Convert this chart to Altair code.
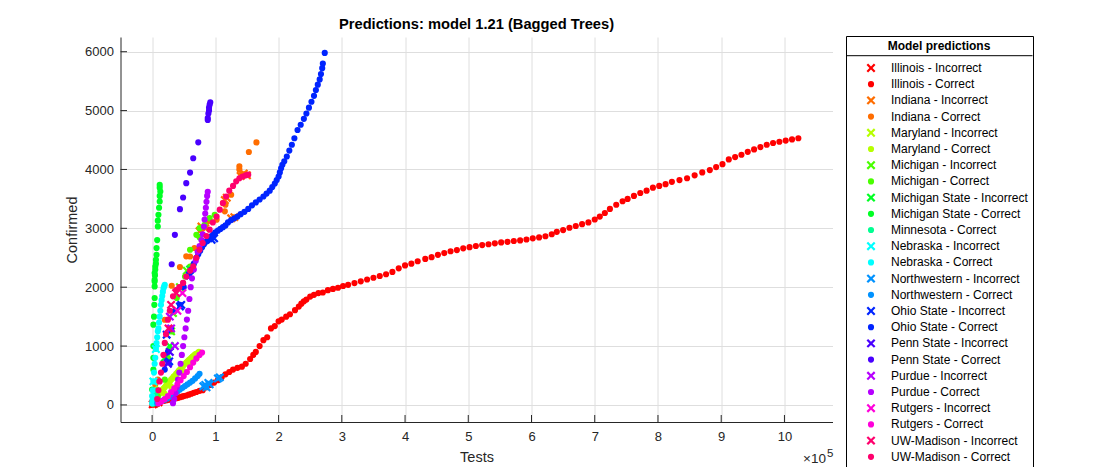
import altair as alt
import pandas as pd

# ---------------- legend entries (order, colours, marker) ----------------
labels = [
    "Illinois - Incorrect", "Illinois - Correct",
    "Indiana - Incorrect", "Indiana - Correct",
    "Maryland - Incorrect", "Maryland - Correct",
    "Michigan - Incorrect", "Michigan - Correct",
    "Michigan State - Incorrect", "Michigan State - Correct",
    "Minnesota - Correct",
    "Nebraska - Incorrect", "Nebraska - Correct",
    "Northwestern - Incorrect", "Northwestern - Correct",
    "Ohio State - Incorrect", "Ohio State - Correct",
    "Penn State - Incorrect", "Penn State - Correct",
    "Purdue - Incorrect", "Purdue - Correct",
    "Rutgers - Incorrect", "Rutgers - Correct",
    "UW-Madison - Incorrect", "UW-Madison - Correct",
]
colors = [
    "#FF0000", "#FF0000", "#FF6D00", "#FF6D00", "#B6FF00", "#B6FF00",
    "#49FF00", "#49FF00", "#00FF24", "#00FF24", "#00FF92",
    "#00FFFF", "#00FFFF", "#0092FF", "#0092FF", "#0024FF", "#0024FF",
    "#4900FF", "#4900FF", "#B600FF", "#B600FF", "#FF00DB", "#FF00DB",
    "#FF006D", "#FF006D",
]
markers = ["x", "o", "x", "o", "x", "o", "x", "o", "x", "o", "o",
           "x", "o", "x", "o", "x", "o", "x", "o", "x", "o", "x", "o", "x", "o"]

# ---------------- data: (tests in thousands, confirmed) ----------------
il_inc = [(1, 10), (3, 20), (6, 35), (10, 45)]
il_cor = [(0.5, 5), (1, 12), (2, 20), (3, 28), (4, 30), (5, 35), (6, 40), (8, 45), (10, 50), (12, 55),
          (14, 60), (16, 65), (18, 70), (20, 75), (23, 80), (26, 90), (29, 95), (32, 100), (35, 110),
          (38, 115), (41, 120), (44, 130), (47, 140), (50, 150), (54, 160), (58, 175), (62, 190),
          (66, 205), (70, 220), (75, 240), (80, 250), (86, 300), (92, 340), (98, 380), (104, 420),
          (110, 470), (116, 520), (122, 560), (128, 600), (135, 630), (142, 650), (148, 700),
          (155, 780), (160, 850), (164, 900), (170, 1000), (176, 1100), (182, 1150), (188, 1300),
          (194, 1340), (200, 1420), (205, 1450), (212, 1500), (218, 1540), (226, 1610), (232, 1670),
          (236, 1720), (240, 1760), (244, 1790), (250, 1840), (256, 1870), (263, 1900), (270, 1910),
          (278, 1950), (286, 1970), (294, 1990), (302, 2020), (310, 2040), (320, 2070), (330, 2100),
          (340, 2130), (350, 2160), (360, 2190), (370, 2220), (380, 2260), (390, 2320), (400, 2370),
          (410, 2400), (420, 2440), (432, 2480), (442, 2510), (452, 2550), (462, 2580), (472, 2610),
          (482, 2630), (492, 2660), (502, 2680), (512, 2700), (522, 2715), (532, 2730), (542, 2745),
          (552, 2760), (562, 2770), (572, 2785), (582, 2795), (592, 2810), (602, 2830), (612, 2845),
          (622, 2865), (632, 2900), (640, 2940), (650, 2970), (660, 3010), (670, 3040), (680, 3070),
          (690, 3100), (700, 3150), (708, 3200), (716, 3260), (724, 3330), (734, 3400), (744, 3460),
          (752, 3500), (762, 3550), (772, 3600), (782, 3640), (792, 3690), (802, 3720), (812, 3750),
          (822, 3790), (834, 3820), (846, 3850), (858, 3900), (870, 3950), (882, 3990), (892, 4040),
          (902, 4090), (912, 4170), (922, 4210), (932, 4250), (942, 4300), (952, 4340), (962, 4380),
          (972, 4420), (982, 4450), (992, 4470), (1002, 4490), (1012, 4510), (1022, 4530)]
in_inc = [(75, 2950), (78, 3030), (84, 3000), (115, 3480), (118, 3520), (125, 3170), (130, 3190),
          (140, 3890), (145, 3930), (150, 3900)]
in_cor = [(3, 150), (5, 350), (9, 430), (20, 1447), (31, 2024), (44, 2343), (54, 2524), (60, 2522),
          (67, 2666), (78, 2988), (88, 3119), (102, 3147), (112, 3428), (115, 3288), (116, 3402),
          (125, 3571), (138, 4000), (138, 4053), (141, 3908), (153, 4296), (165, 4460)]
md_inc = [(3, 200), (8, 150), (12, 260)]
md_cor = [(2, 40), (4, 80), (6, 110), (8, 140), (10, 170), (12, 200), (14, 230), (16, 250), (18, 270),
          (20, 300), (22, 330), (24, 350), (26, 380), (28, 400), (30, 430), (32, 450), (34, 480),
          (36, 500), (38, 530), (40, 550), (42, 580), (44, 600), (46, 630), (48, 650), (50, 680),
          (52, 700), (54, 720), (56, 740), (58, 760), (60, 780), (62, 800), (64, 820), (66, 840),
          (68, 860), (70, 870), (72, 880), (74, 900), (10, 90), (20, 190), (30, 310), (40, 440),
          (50, 570), (60, 690), (70, 790)]
mi_inc = [(33, 1560), (30, 1250), (44, 2000), (55, 2280)]
mi_cor = [(9, 146), (20, 429), (25, 798), (28, 967), (31, 1249), (39, 1816), (39, 1957), (49, 2070),
          (52, 2182), (60, 2352), (65, 2381), (60, 2636), (75, 2850), (70, 2890), (75, 3003),
          (83, 3060), (91, 3173), (99, 3229)]
ms_inc = [(28, 1000), (60, 2300), (20, 800)]
ms_cor = [(0, 260), (2, 599), (2, 800), (2, 1000), (2, 1363), (3, 1500), (3.5, 1700), (4, 1816),
          (4, 2013), (4, 2097), (4, 2126), (4.5, 2200), (4, 2240), (5, 2300), (5, 2352), (6, 2400),
          (6, 2466), (7, 2550), (7, 2664), (8, 2800), (9, 3031), (9, 3130), (10, 3229), (11, 3350),
          (12, 3455), (12, 3550), (13, 3625), (12, 3690), (12, 3738)]
mn_cor = [(1, 20), (2, 60), (3, 120), (4, 90), (5, 180), (7, 250)]
ne_inc = [(2, 400), (6, 950)]
ne_cor = [(0, 30), (0.5, 80), (0, 150), (1, 250), (2, 400), (3, 550), (4, 700), (5, 800), (6, 950),
          (7, 1050), (8, 1150), (9, 1250), (10, 1300), (11, 1400), (12, 1500), (13, 1600),
          (14, 1700), (15, 1780), (16, 1850), (17, 1920), (18, 1980), (19, 2010), (20, 2040)]
nw_inc = [(81, 316), (84, 340), (86, 300), (89, 373), (91, 350), (104, 450), (107, 468)]
nw_cor = [(8, 30), (12, 50), (16, 70), (20, 90), (24, 110), (28, 140), (32, 170), (36, 200),
          (40, 230), (44, 260), (48, 290), (52, 320), (56, 350), (60, 380), (64, 410), (68, 450),
          (72, 490), (75, 530)]
os_inc = [(25, 713), (23, 1193), (27, 740), (44, 1673), (46, 1700), (60, 2200), (94, 2805), (98, 2830)]
os_cor = [(20, 600), (25, 900), (30, 1300), (36, 1600), (44, 1700), (50, 2000), (58, 2200), (62, 2300),
          (66, 2400), (70, 2500), (73, 2560), (76, 2620), (79, 2680), (82, 2730), (85, 2770),
          (88, 2810), (91, 2840), (94, 2870), (97, 2900), (100, 2930), (104, 2960), (108, 2990),
          (112, 3020), (116, 3050), (120, 3100), (125, 3140), (130, 3170), (135, 3200), (140, 3240),
          (146, 3280), (152, 3330), (158, 3390), (164, 3440), (170, 3490), (176, 3540), (181, 3590),
          (186, 3640), (190, 3700), (194, 3760), (197, 3820), (200, 3880), (202, 3950), (204, 4020),
          (206, 4080), (209, 4140), (213, 4220), (217, 4320), (221, 4420), (225, 4530), (230, 4670),
          (235, 4760), (240, 4860), (244, 4950), (248, 5050), (252, 5150), (256, 5250), (259, 5350),
          (262, 5440), (265, 5530), (267, 5620), (269, 5720), (270, 5800), (273, 5980)]
ps_inc = [(25, 700), (28, 900)]
ps_cor = [(31, 2390), (36, 2890), (44, 3326), (49, 3523), (54, 3767), (60, 3947), (65, 4191),
          (73, 4460), (88, 4840), (88, 4873), (89, 4950), (90, 5000), (90, 5050), (91, 5100), (92, 5140)]
pu_inc = [(30, 1300), (36, 1000), (28, 1500)]
pu_cor = [(33, 30), (35, 100), (37, 200), (39, 300), (41, 430), (43, 550), (45, 700), (47, 850),
          (49, 1000), (51, 1150), (53, 1300), (55, 1450), (57, 1600), (59, 1800), (61, 2000),
          (63, 2150), (66, 2300), (69, 2450), (72, 2600), (75, 2700), (78, 2800), (80, 2900),
          (82, 3030), (83, 3150), (84, 3250), (85, 3350), (86, 3450), (87, 3550), (88, 3620)]
ru_inc = [(40, 1600), (48, 1900)]
ru_cor = [(10, 30), (15, 60), (20, 100), (25, 150), (30, 220), (35, 280), (40, 350), (45, 420),
          (50, 490), (55, 560), (60, 640), (65, 720), (70, 790), (75, 850), (79, 890)]
uw_inc = [(30, 1700), (38, 1900), (26, 1300)]
uw_cor = [(8, 100), (10, 250), (12, 400), (14, 550), (16, 700), (18, 850), (20, 1053), (22, 1200),
          (25, 1449), (28, 1600), (33, 1845), (38, 1950), (43, 2000), (49, 2072), (54, 2180),
          (60, 2280), (65, 2355), (70, 2500), (75, 2638), (80, 2750), (86, 2870), (91, 2977),
          (96, 3100), (102, 3200), (107, 3317), (112, 3430), (117, 3540), (122, 3640), (128, 3720),
          (133, 3798), (138, 3850), (143, 3880), (148, 3900), (152, 3911)]

series = [il_inc, il_cor, in_inc, in_cor, md_inc, md_cor, mi_inc, mi_cor, ms_inc, ms_cor, mn_cor,
          ne_inc, ne_cor, nw_inc, nw_cor, os_inc, os_cor, ps_inc, ps_cor, pu_inc, pu_cor,
          ru_inc, ru_cor, uw_inc, uw_cor]

x_ticks = [0, 100000, 200000, 300000, 400000, 500000, 600000, 700000, 800000, 900000, 1000000]
y_ticks = [0, 1000, 2000, 3000, 4000, 5000, 6000]

rows = []
for lab, mk, pts in zip(labels, markers, series):
    for tx, cy in pts:
        rows.append({"label": lab, "mk": mk, "tests": tx * 1000, "confirmed": cy})
df = pd.DataFrame(rows)

W, H = 712, 385
FONT = "Liberation Sans"
X_PATH = ("M-1,-0.65L-0.65,-1L0,-0.35L0.65,-1L1,-0.65L0.35,0L1,0.65L0.65,1L0,0.35"
          "L-0.65,1L-1,0.65L-0.35,0Z")
shapes = [X_PATH if m == "x" else "circle" for m in markers]
sizes = [80 if m == "x" else 38 for m in markers]

x_scale = alt.Scale(domain=[-50000, 1076000], nice=False, zero=False)
y_scale = alt.Scale(domain=[-290, 6250], nice=False, zero=False)
x_axis = alt.Axis(values=x_ticks, labelExpr="datum.value / 100000", title="Tests",
                  ticks=False, labelPadding=8, titleY=35, titleBaseline="middle")
y_axis = alt.Axis(values=y_ticks, labelExpr="datum.value", title="Confirmed", ticks=False,
                  labelPadding=7, titleX=-48.5, titleY=H / 2, titleBaseline="middle")

legend = alt.Legend(
    title="Model predictions", orient="none", legendX=725.5, legendY=-1,
    strokeColor="black", padding=5, titleFontSize=12, titleFontWeight="bold",
    titleFont=FONT, titleColor="black", titleAnchor="middle", titlePadding=9,
    labelFont=FONT, labelFontSize=12, labelColor="black", rowPadding=4.2,
    symbolOffset=14, labelOffset=14, symbolStrokeWidth=0,
    symbolLimit=40, labelLimit=300,
)

points = alt.Chart(df).mark_point(filled=True, opacity=1).encode(
    x=alt.X("tests:Q", scale=x_scale, axis=x_axis),
    y=alt.Y("confirmed:Q", scale=y_scale, axis=y_axis),
    color=alt.Color("label:N", scale=alt.Scale(domain=labels, range=colors), legend=legend),
    shape=alt.Shape("label:N", scale=alt.Scale(domain=labels, range=shapes), legend=legend),
    size=alt.Size("label:N", scale=alt.Scale(type="ordinal", domain=labels, range=sizes),
                  legend=legend),
)

xt = alt.Chart(pd.DataFrame({"tests": x_ticks})).mark_rule(color="#262626").encode(
    x=alt.X("tests:Q", scale=x_scale, axis=x_axis), y=alt.value(H), y2=alt.value(H - 7))
yt = alt.Chart(pd.DataFrame({"confirmed": y_ticks})).mark_rule(color="#262626").encode(
    y=alt.Y("confirmed:Q", scale=y_scale, axis=y_axis), x=alt.value(0), x2=alt.value(6.5))

exp_a = alt.Chart(pd.DataFrame({"t": ["×10"]})).mark_text(
    align="left", baseline="alphabetic", font=FONT, fontSize=13.5, color="#262626").encode(
    text="t:N", x=alt.value(682.5), y=alt.value(426))
exp_b = alt.Chart(pd.DataFrame({"t": ["5"]})).mark_text(
    align="left", baseline="alphabetic", font=FONT, fontSize=11.5, color="#262626").encode(
    text="t:N", x=alt.value(706.5), y=alt.value(420))
sep = alt.Chart(pd.DataFrame({"t": ["sep"]})).mark_rule(color="black", strokeWidth=1).encode(
    x=alt.value(725.5), x2=alt.value(912), y=alt.value(18.7))

chart = alt.layer(points, xt, yt, exp_a, exp_b, sep).properties(
    width=W, height=H,
    background="white",
    autosize=alt.AutoSizeParams(type="none"),
    padding={"left": 112.5, "top": 29, "right": 270, "bottom": 45},
    title=alt.TitleParams("Predictions: model 1.21 (Bagged Trees)", font=FONT, fontSize=14.7,
                          fontWeight="bold", color="black", anchor="middle", offset=4),
).configure_view(strokeWidth=0).configure_axis(
    labelFont=FONT, labelFontSize=13, labelColor="#262626", titleFont=FONT, titleFontSize=14.5,
    titleFontWeight="normal", titleColor="#262626", domainColor="#262626", domainWidth=1,
    gridColor="#dedede", gridWidth=1,
)

chart.save("out.html", embed_options={"renderer": "svg", "actions": False})
